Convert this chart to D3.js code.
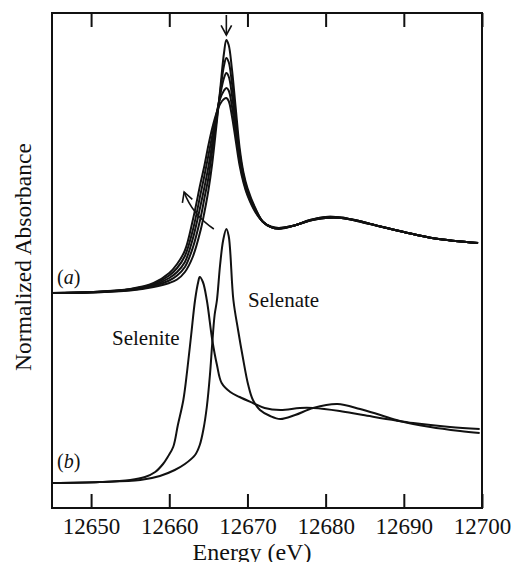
<!DOCTYPE html>
<html>
<head>
<meta charset="utf-8">
<script src="https://cdn.jsdelivr.net/npm/d3@7"></script>
</head>
<body style="margin:0;background:#fff">
<svg width="514" height="562" font-family="Liberation Serif"></svg>
<script>
// Energy grid for the (a) series
const energyA = [12645, 12650, 12655, 12658, 12660, 12661, 12662, 12663, 12664, 12664.5,
  12665, 12665.5, 12666, 12666.5, 12667, 12667.3, 12667.6, 12668, 12668.5, 12669,
  12669.5, 12670, 12671, 12672, 12673, 12674, 12676, 12678, 12680, 12682,
  12684, 12687, 12690, 12694, 12699.5];

// (a) spectra, highest white line first
const a1 = [0, 0.01, 0.05, 0.12, 0.20, 0.27, 0.42, 0.72, 1.25, 1.62,
  2.05, 2.6, 3.3, 4.05, 4.8, 5.06, 4.96, 4.5, 3.7, 2.9,
  2.4, 2.1, 1.7, 1.42, 1.32, 1.28, 1.35, 1.46, 1.52, 1.51,
  1.45, 1.33, 1.22, 1.09, 1.00];
const a2 = [0, 0.01, 0.06, 0.14, 0.25, 0.35, 0.52, 0.9, 1.5, 1.9,
  2.3, 2.85, 3.4, 4.0, 4.55, 4.7, 4.62, 4.22, 3.52, 2.8,
  2.35, 2.05, 1.68, 1.42, 1.32, 1.29, 1.35, 1.46, 1.52, 1.51,
  1.45, 1.33, 1.22, 1.09, 1.0];
const a3 = [0, 0.015, 0.07, 0.16, 0.3, 0.42, 0.62, 1.08, 1.75, 2.12,
  2.52, 3.0, 3.5, 3.95, 4.3, 4.4, 4.33, 3.98, 3.35, 2.72,
  2.3, 2.02, 1.66, 1.42, 1.32, 1.29, 1.35, 1.45, 1.51, 1.5,
  1.45, 1.33, 1.22, 1.09, 1.0];
const a4 = [0, 0.02, 0.075, 0.18, 0.35, 0.5, 0.74, 1.25, 1.98, 2.35,
  2.75, 3.15, 3.55, 3.88, 4.05, 4.1, 4.05, 3.75, 3.2, 2.63,
  2.25, 1.98, 1.64, 1.42, 1.32, 1.3, 1.35, 1.45, 1.5, 1.5,
  1.44, 1.33, 1.22, 1.09, 1.0];
const a5 = [0, 0.02, 0.08, 0.2, 0.4, 0.58, 0.85, 1.45, 2.2, 2.55,
  2.95, 3.3, 3.58, 3.78, 3.88, 3.9, 3.84, 3.55, 3.05, 2.55,
  2.2, 1.95, 1.62, 1.42, 1.33, 1.3, 1.35, 1.45, 1.5, 1.5,
  1.44, 1.33, 1.22, 1.09, 1.0];
const seriesA = [a1, a2, a3, a4, a5];

// (b) reference compounds
const selenateE = [12645, 12651.1, 12656.3, 12658.8, 12660.7, 12662.0, 12663.3, 12663.9, 12664.4, 12664.8,
  12665.2, 12665.5, 12665.8, 12666.1, 12666.5, 12666.9, 12667.3, 12667.6, 12668.2, 12668.8,
  12669.4, 12670.1, 12670.7, 12671.6, 12672.9, 12674.2, 12676.1, 12678.4, 12681.5, 12684.4,
  12687.0, 12689.5, 12693.4, 12697.2, 12699.7];
const selenate = [0, 0.02, 0.06, 0.14, 0.26, 0.38, 0.56, 0.76, 1.10, 1.52,
  2.16, 2.80, 3.36, 3.66, 4.36, 4.86, 5.08, 4.94, 3.66, 3.06,
  2.52, 1.96, 1.66, 1.46, 1.34, 1.28, 1.36, 1.50, 1.58, 1.48,
  1.36, 1.24, 1.12, 1.04, 1.00];
const seleniteE = [12645, 12651.1, 12655, 12656.9, 12658.2, 12659.2, 12659.8, 12660.5, 12661.1, 12661.8,
  12662.3, 12662.8, 12663.3, 12663.7, 12663.9, 12664.3, 12664.8, 12665.5, 12666.1, 12666.7,
  12667.8, 12669.0, 12670.7, 12672.2, 12674.2, 12676.7, 12678.4, 12681.8, 12684.8, 12691.2,
  12695.9, 12699.7];
const selenite = [0, 0.02, 0.06, 0.12, 0.22, 0.38, 0.52, 0.72, 1.16, 1.66,
  2.26, 2.96, 3.66, 4.02, 4.12, 4.02, 3.66, 2.86, 2.36, 2.0,
  1.82, 1.72, 1.60, 1.50, 1.46, 1.50, 1.50, 1.44, 1.36, 1.20,
  1.12, 1.08];

const xTicks = [12650, 12660, 12670, 12680, 12690, 12700];
const offsetA = 3.8;   // vertical stacking of set (a)

const svg = d3.select("svg"),
    plotLeft = 52, plotRight = 482, plotTop = 13, plotBottom = 508;

const x = d3.scaleLinear().domain([12645, 12700]).range([plotLeft, plotRight]);
const y = d3.scaleLinear().domain([-0.5, 9.4]).range([plotBottom, plotTop]);

const line = d3.line()
    .x(d => x(d[0]))
    .y(d => y(d[1]))
    .curve(d3.curveCatmullRom.alpha(0.5));

// curves
const g = svg.append("g").attr("fill", "none").attr("stroke", "#111");

seriesA.forEach(s => {
  g.append("path")
    .attr("stroke-width", 2)
    .attr("d", line(energyA.map((e, i) => [e, s[i] + offsetA])));
});

g.append("path").attr("stroke-width", 2)
  .attr("d", line(selenateE.map((e, i) => [e, selenate[i]])));
g.append("path").attr("stroke-width", 2)
  .attr("d", line(seleniteE.map((e, i) => [e, selenite[i]])));

// frame with inward ticks on top and bottom
svg.append("rect")
  .attr("x", plotLeft).attr("y", plotTop)
  .attr("width", plotRight - plotLeft).attr("height", plotBottom - plotTop)
  .attr("fill", "none").attr("stroke", "#111").attr("stroke-width", 2);

const tickLen = 14;
svg.append("g")
  .attr("transform", `translate(0,${plotBottom})`)
  .call(d3.axisBottom(x).tickValues(xTicks).tickSize(-tickLen).tickPadding(10).tickFormat(d3.format("d")))
  .attr("font-family", "Liberation Serif")
  .call(a => a.select(".domain").remove())
  .call(a => a.selectAll("line").attr("stroke", "#111").attr("stroke-width", 2))
  .call(a => a.selectAll("text").attr("font-size", 23));

svg.append("g")
  .attr("transform", `translate(0,${plotTop})`)
  .call(d3.axisTop(x).tickValues(xTicks).tickSize(-tickLen).tickFormat(""))
  .call(a => a.select(".domain").remove())
  .call(a => a.selectAll("line").attr("stroke", "#111").attr("stroke-width", 2));

// axis titles
svg.append("text")
  .attr("x", 252).attr("y", 560)
  .attr("text-anchor", "middle").attr("font-size", 24)
  .text("Energy (eV)");

svg.append("text")
  .attr("transform", "translate(31,257) rotate(-90)")
  .attr("text-anchor", "middle").attr("font-size", 23.5)
  .text("Normalized Absorbance");

// labels
const lab = svg.append("g").attr("font-size", 20);
lab.append("text").attr("x", 57).attr("y", 284)
  .html('(<tspan font-style="italic">a</tspan>)');
lab.append("text").attr("x", 57).attr("y", 468)
  .html('(<tspan font-style="italic">b</tspan>)');

svg.append("text").attr("x", 112).attr("y", 345).attr("font-size", 21).text("Selenite");
svg.append("text").attr("x", 248).attr("y", 307).attr("font-size", 21).text("Selenate");

svg.selectAll("text")
  .style("font-family", '"Liberation Serif"')
  .style("fill", "#111");

// arrows
function head(tx, ty, fx, fy) {
  const ang = Math.atan2(ty - fy, tx - fx), len = 11, spread = 0.5;
  const p1 = [tx - len * Math.cos(ang - spread), ty - len * Math.sin(ang - spread)];
  const p2 = [tx - len * Math.cos(ang + spread), ty - len * Math.sin(ang + spread)];
  return `M${p1}L${tx},${ty}L${p2}`;
}

const arr = svg.append("g").attr("fill", "none").attr("stroke", "#111").attr("stroke-width", 1.6);

// peak arrow (pointing down)
const pkX = x(12667.3), pkY0 = y(9.36), pkY1 = y(8.96);
arr.append("path").attr("d", `M${pkX},${pkY0}L${pkX},${pkY1}`);
arr.append("path").attr("d", head(pkX, pkY1, pkX, pkY0));

// edge arrow (curved, pointing up-left)
const s0 = [x(12665.7), y(5.08)], c0 = [x(12662.9), y(5.38)], t0 = [x(12661.9), y(5.82)];
arr.append("path").attr("d", `M${s0}Q${c0} ${t0}`);
arr.append("path").attr("d", head(t0[0], t0[1], c0[0], c0[1]));
</script>
</body>
</html>
